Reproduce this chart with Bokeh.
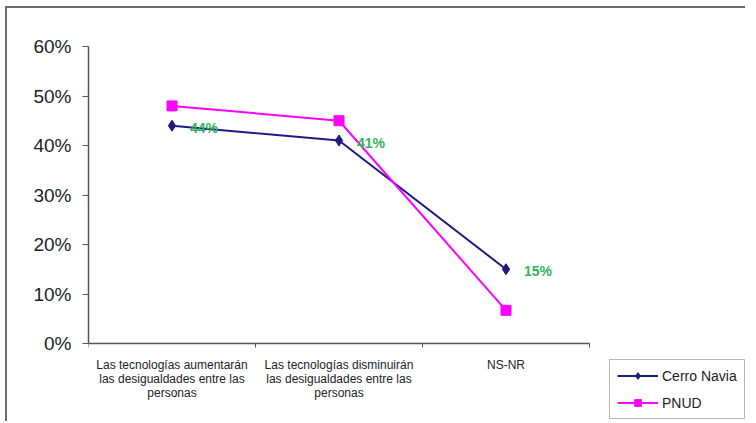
from bokeh.plotting import figure
from bokeh.models import (ColumnDataSource, FixedTicker, Range1d, Legend, LegendItem,
                          PrintfTickFormatter)
from bokeh.embed import file_html
from bokeh.resources import INLINE
from bokeh.core.properties import value

categories = [
    "Las tecnologías aumentarán\nlas desigualdades entre las\npersonas",
    "Las tecnologías disminuirán\nlas desigualdades entre las\npersonas",
    "NS-NR",
]
cerro_navia = [44, 41, 15]
pnud = [48, 45, 6.7]
cerro_labels = ["44%", "41%", "15%"]
y_ticks = [0, 10, 20, 30, 40, 50, 60]

n = len(categories)
xpos = [i + 0.5 for i in range(n)]

W, H = 740, 415
BL, BT = 81, 38
frame_w = W - BL
frame_h = H - BT
cat_px = 167.0        # pixels per category
pct_px = 297.0 / 60   # pixels per percentage point

p = figure(width=W, height=H, output_backend="svg", toolbar_location=None,
           x_range=Range1d(0, frame_w / cat_px),
           y_range=Range1d(60 - frame_h / pct_px, 60),
           min_border_left=BL, min_border_right=0, min_border_top=BT,
           min_border_bottom=0)
p.styles = {"margin-left": "5px", "margin-top": "6px",
            "border-left": "2px solid #6a6a6a", "border-top": "2px solid #6a6a6a"}
p.outline_line_color = None
p.xgrid.visible = False
p.ygrid.visible = False
p.background_fill_color = "white"
p.border_fill_color = "white"

src_c = ColumnDataSource(dict(x=xpos, y=cerro_navia, lab=cerro_labels))
src_p = ColumnDataSource(dict(x=xpos, y=pnud))

navy = "#1c1c84"
mag = "#ff00ff"
lc = p.line("x", "y", source=src_c, line_color=navy, line_width=2)
mc = p.scatter("x", "y", source=src_c, marker="diamond", size=11,
               fill_color=navy, line_color=navy)
lp = p.line("x", "y", source=src_p, line_color=mag, line_width=2)
mp = p.scatter("x", "y", source=src_p, marker="square", size=10,
               fill_color=mag, line_color=mag)

p.text("x", "y", text="lab", source=src_c, x_offset=18, y_offset=2,
       text_align="left", text_baseline="middle",
       text_font=value("Liberation Sans"), text_font_style="bold",
       text_font_size="14px", text_color="#33b35a")

# x axis (fixed at y = 0)
p.xaxis.fixed_location = 0
p.xaxis.bounds = (0, n)
p.xaxis.ticker = FixedTicker(ticks=xpos, minor_ticks=list(range(n + 1)))
p.xaxis.major_label_overrides = {x: c for x, c in zip(xpos, categories)}
p.xaxis.major_tick_out = 0
p.xaxis.major_tick_in = 0
p.xaxis.minor_tick_out = 4
p.xaxis.minor_tick_in = 0
p.xaxis.minor_tick_line_color = "#555555"
p.xaxis.axis_line_color = "#555555"
p.xaxis.axis_line_width = 1.5
p.xaxis.major_label_text_font = "Liberation Sans"
p.xaxis.major_label_text_font_size = "12px"
p.xaxis.major_label_text_line_height = 1.0
p.xaxis.major_label_text_color = "#222222"
p.xaxis.major_label_standoff = 10

# y axis
p.yaxis.bounds = (0, 60)
p.yaxis.ticker = FixedTicker(ticks=y_ticks)
p.yaxis.formatter = PrintfTickFormatter(format="%d%%")
p.yaxis.minor_tick_line_color = None
p.yaxis.major_tick_out = 6
p.yaxis.major_tick_in = 0
p.yaxis.major_tick_line_color = "#555555"
p.yaxis.axis_line_color = "#555555"
p.yaxis.axis_line_width = 1.5
p.yaxis.major_label_text_font = "Liberation Sans"
p.yaxis.major_label_text_font_size = "19px"
p.yaxis.major_label_text_color = "#222222"
p.yaxis.major_label_standoff = 11

legend = Legend(items=[LegendItem(label="Cerro Navia", renderers=[lc, mc]),
                       LegendItem(label="PNUD", renderers=[lp, mp])],
                location=(521, 4), orientation="vertical",
                border_line_color="#6f6f6f", border_line_width=1.5,
                label_text_font="Liberation Sans", label_text_font_size="14px",
                label_text_color="#222222", glyph_width=41, glyph_height=17,
                spacing=10, padding=7, margin=0, label_standoff=4)
p.add_layout(legend, "center")

open("out.html", "w").write(file_html(p, INLINE))
